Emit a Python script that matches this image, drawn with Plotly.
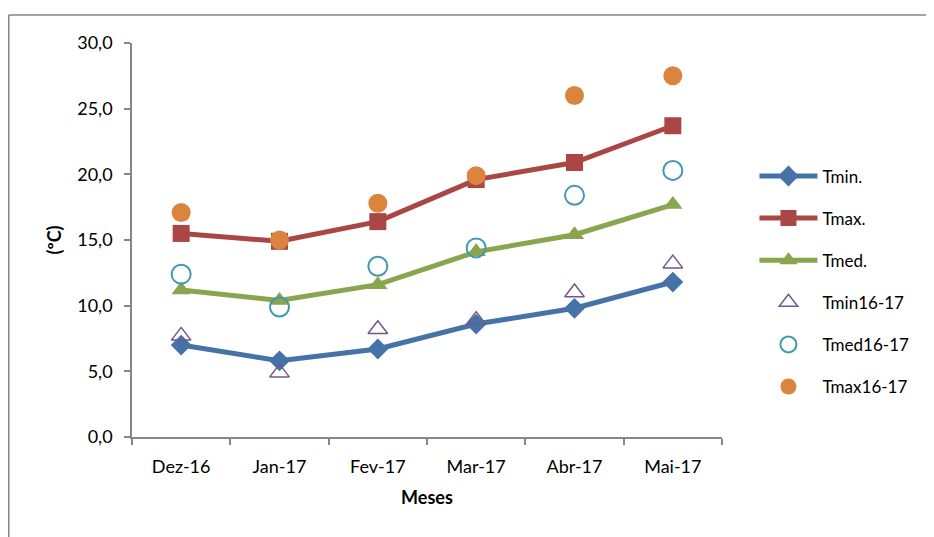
import plotly.graph_objects as go

meses = ["Dez-16", "Jan-17", "Fev-17", "Mar-17", "Abr-17", "Mai-17"]
tmin = [7.0, 5.8, 6.7, 8.6, 9.8, 11.8]
tmax = [15.5, 14.9, 16.4, 19.6, 20.9, 23.7]
tmed = [11.2, 10.4, 11.6, 14.1, 15.4, 17.7]
tmin1617 = [7.7, 4.9, 8.2, 8.9, 11.0, 13.2]
tmed1617 = [12.4, 9.9, 13.0, 14.4, 18.4, 20.3]
tmax1617 = [17.1, 15.0, 17.8, 19.9, 26.0, 27.5]

FONT = "Lato"
fig = go.Figure()

fig.add_trace(go.Scatter(x=meses, y=tmin, name="Tmin.", mode="lines+markers",
                         line=dict(color="#4572A7", width=5),
                         marker=dict(symbol="diamond", size=16, color="#4572A7"),
                         legendgroup="a"))
fig.add_trace(go.Scatter(x=meses, y=tmax, name="Tmax.", mode="lines+markers",
                         line=dict(color="#AA4643", width=5),
                         marker=dict(symbol="square", size=17, color="#AA4643"),
                         legendgroup="b"))
fig.add_trace(go.Scatter(x=meses, y=tmed, name="Tmed.", mode="lines+markers",
                         line=dict(color="#89A54E", width=5),
                         marker=dict(symbol="triangle-up", size=17, color="#89A54E"),
                         legendgroup="c"))
fig.add_trace(go.Scatter(x=meses, y=tmin1617, name="Tmin16-17", mode="markers",
                         marker=dict(symbol="triangle-up-open", size=17, color="#71588F",
                                     line=dict(width=1.5)),
                         legendgroup="d"))
fig.add_trace(go.Scatter(x=meses, y=tmed1617, name="Tmed16-17", mode="markers",
                         marker=dict(symbol="circle-open", size=19, color="#4198AF",
                                     line=dict(width=2)),
                         legendgroup="e"))
fig.add_trace(go.Scatter(x=meses, y=tmax1617, name="Tmax16-17", mode="markers",
                         marker=dict(symbol="circle", size=19, color="#DB843D"),
                         legendgroup="f"))

# page has an 8px body margin; figure coordinates are page coordinates minus 8
W, H = 926, 529
l, t = 124, 35
pw, ph = 590, 394
r = W - l - pw
b = H - t - ph

fig.update_layout(
    width=W, height=H,
    margin=dict(l=l, r=r, t=t, b=b),
    paper_bgcolor="white", plot_bgcolor="white",
    separators=",.",
    font=dict(family=FONT, size=18, color="black"),
    showlegend=True,
    legend=dict(x=1.055, y=0.707, xanchor="left", yanchor="top",
                font=dict(family=FONT, size=17, color="black"),
                tracegroupgap=17, itemwidth=58, bgcolor="rgba(0,0,0,0)"),
    xaxis=dict(type="category", showgrid=False, showline=True, linecolor="#868686",
               linewidth=1.5, ticks="outside", tickson="boundaries", ticklen=6,
               tickcolor="#868686", tickwidth=1.5, ticklabelstandoff=13,
               tickfont=dict(family=FONT, size=18),
               title=dict(text="<b>Meses</b>", font=dict(family=FONT, size=18), standoff=15),
               range=[-0.5, 5.5]),
    yaxis=dict(range=[0, 30], dtick=5, tickformat=".1f", showgrid=False, showline=True,
               linecolor="#868686", linewidth=1.5, ticks="outside", ticklen=6,
               tickcolor="#868686", tickwidth=1.5, zeroline=False, ticklabelstandoff=8,
               tickfont=dict(family=FONT, size=18),
               title=dict(text="<b>(ºC)</b>", font=dict(family=FONT, size=18), standoff=11)),
)

def px(xp):
    return (xp - l) / pw
def py(yp):
    return (H - b - yp) / ph
# outer chart border (top and left edges visible)
fig.add_shape(type="line", xref="paper", yref="paper", x0=px(0.75), x1=px(W + 5), y0=py(7), y1=py(7),
              line=dict(color="#868686", width=1.5))
fig.add_shape(type="line", xref="paper", yref="paper", x0=px(0.75), x1=px(0.75), y0=py(7), y1=py(H + 5),
              line=dict(color="#868686", width=1.5))

fig.write_html("out.html")
